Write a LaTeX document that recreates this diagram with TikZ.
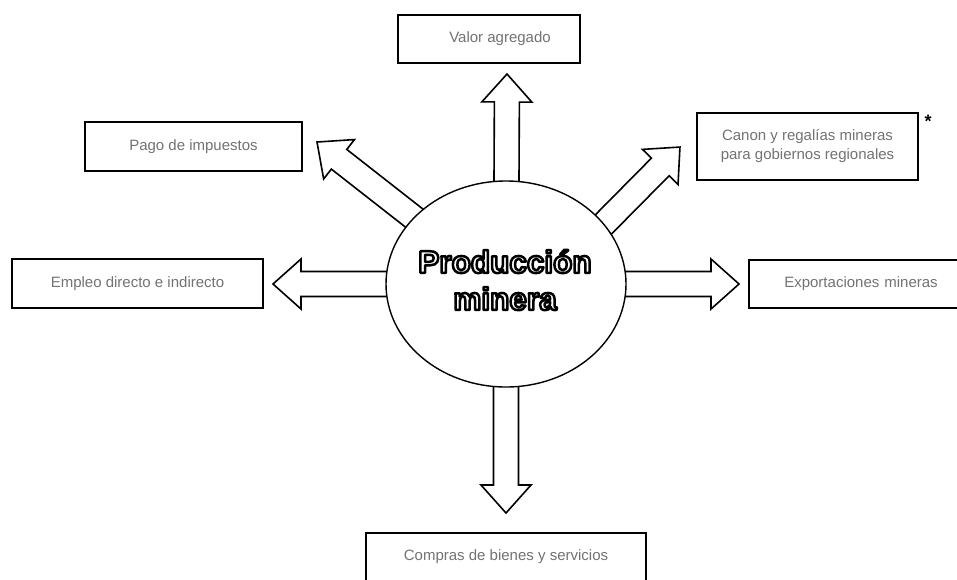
\documentclass[tikz,border=0pt]{standalone}
\usepackage{fontspec}
\setmainfont{Liberation Sans}
\usetikzlibrary{calc,shapes.geometric}

\tikzset{
  x=1pt, y=1pt,
  infobox/.style={draw=black, line width=1.6pt, fill=white, inner sep=2pt,
    font=\fontsize{15}{19}\selectfont, text=black!55, align=center},
  blockarrow/.style={draw=black, line width=1.6pt, fill=white, line join=miter},
  hub/.style={ellipse, draw=black, line width=1.4pt, fill=white, inner sep=0pt,
    minimum width=240pt, minimum height=206pt},
  hubtext/.style={font=\fontsize{31.5}{37}\selectfont\bfseries, align=center, text=white},
}

% white letters with a black contour (PDF text render mode 2: fill, then stroke)
\newcommand{\outlinedtext}[1]{%
  \special{pdf:literal direct 2 Tr 2.5 w 1 j 0 G}#1\special{pdf:literal direct 0 Tr}}

% Hollow block arrow from #1 to the tip #2 (shaft 25, head 50 wide, 28 long)
\newcommand{\blockarrowdraw}[2]{%
  \path let \p1=(#1), \p2=(#2) in
    \pgfextra{%
      \pgfmathsetmacro\baX{\x1}%
      \pgfmathsetmacro\baY{\y1}%
      \pgfmathsetmacro\baA{atan2(\y2-\y1,\x2-\x1)}%
      \pgfmathsetmacro\baL{veclen(\x2-\x1,\y2-\y1)}%
      \xdef\baX{\baX}\xdef\baY{\baY}\xdef\baA{\baA}\xdef\baL{\baL}};
  \draw[blockarrow, shift={(\baX,\baY)}, rotate=\baA]
    (0,-12.5) -- (\baL-28,-12.5) -- (\baL-28,-25) -- (\baL,0)
    -- (\baL-28,25) -- (\baL-28,12.5) -- (0,12.5);
}

\begin{document}
\begin{tikzpicture}
  \useasboundingbox (0,0) rectangle (957,-579);
  \clip (0,0) rectangle (957,-579);
  \fill[white] (0,0) rectangle (957,-579);

  % central hub position and arrow tips
  \coordinate (hubc) at (506,-284);
  \coordinate (tipN) at (507,-74);
  \coordinate (tipS) at (506,-513);
  \coordinate (tipW) at (273,-284);
  \coordinate (tipE) at (739,-284);
  \coordinate (tipNW) at (317,-142);
  \coordinate (tipNE) at (680,-147);
  \coordinate (rootNW) at (432,-232);
  \coordinate (rootNE) at (588,-240);

  % arrows (their roots are hidden under the hub)
  \blockarrowdraw{hubc}{tipN}
  \blockarrowdraw{hubc}{tipS}
  \blockarrowdraw{hubc}{tipW}
  \blockarrowdraw{hubc}{tipE}
  \blockarrowdraw{rootNW}{tipNW}
  \blockarrowdraw{rootNE}{tipNE}

  % hub
  \node[hub] (hub) at (hubc) {};
  \node[hubtext] (title) at (505,-280) {\outlinedtext{Producción}\\\outlinedtext{minera}};

  % surrounding boxes
  \node[infobox, minimum width=182pt, minimum height=48pt] (bN) at (489,-39) {\hspace*{22pt}Valor agregado};
  \node[infobox, minimum width=217pt, minimum height=49pt] (bNW) at (193.5,-146.5) {Pago de impuestos};
  \node[infobox, minimum width=221pt, minimum height=67pt] (bNE) at (807.5,-146.5)
    {Canon y regalías mineras\\para gobiernos regionales};
  \node[infobox, minimum width=251pt, minimum height=49pt] (bW) at (137.5,-283.5) {Empleo directo e indirecto};
  \node[infobox, minimum width=210pt, minimum height=48pt, text width=200pt] (bE) at (854,-284)
    {\hspace*{14pt}Exportaciones mineras};
  \node[infobox, minimum width=280pt, minimum height=48pt] (bS) at (506,-557) {Compras de bienes y servicios};

  % footnote mark
  \node[anchor=north, inner sep=0pt, font=\fontsize{18}{18}\selectfont\bfseries] (ast) at (928,-115) {*};
\end{tikzpicture}
\end{document}
